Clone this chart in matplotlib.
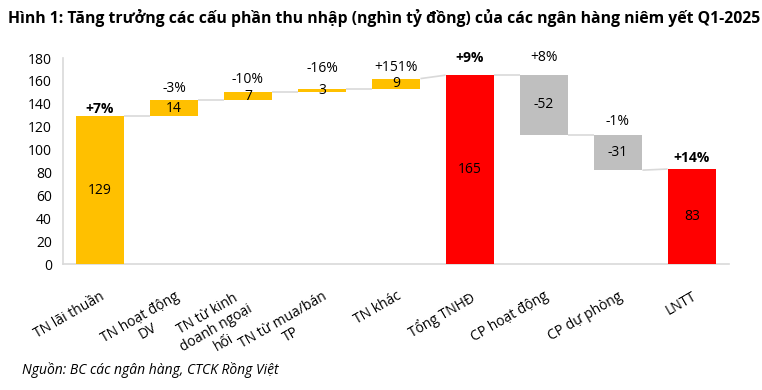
import matplotlib
matplotlib.use("Agg")
import matplotlib.pyplot as plt
import matplotlib.transforms as mtransforms

plt.rcParams['font.family'] = ['Open Sans', 'DejaVu Sans']

categories = ["TN lãi thuần", "TN hoạt động\nDV", "TN từ kinh\ndoanh ngoại\nhối",
              "TN từ mua/bán\nTP", "TN khác", "Tổng TNHĐ", "CP hoạt động",
              "CP dự phòng", "LNTT"]
values = [129, 14, 7, 3, 9, 165, -52, -31, 83]
is_total = [True, False, False, False, False, True, False, False, True]
growth = ["+7%", "-3%", "-10%", "-16%", "+151%", "+9%", "+8%", "-1%", "+14%"]
growth_bold = [True, False, False, False, False, True, False, False, True]
yticks = [0, 20, 40, 60, 80, 100, 120, 140, 160, 180]

# style
YELLOW = "#FFC000"
RED = "#FF0000"
GREY = "#BFBFBF"
colors = [YELLOW, YELLOW, YELLOW, YELLOW, YELLOW, RED, GREY, GREY, RED]
label_offset_px = [7, 12, 12.5, 20, 11.5, 17, 18, 13, 11.5]

fig = plt.figure(figsize=(7.62, 3.90), dpi=100)
ax = fig.add_axes([63/762, 1-264/390, (729-63)/762, (264-58)/390])

# compute waterfall geometry
bottoms, tops, starts, ends = [], [], [], []
running = 0
for v, t in zip(values, is_total):
    if t:
        b, tp = 0, v
        start, end = v, v
        running = v
    else:
        prev = running
        running = prev + v
        b, tp = min(prev, running), max(prev, running)
        start, end = prev, running
    bottoms.append(b); tops.append(tp); starts.append(start); ends.append(end)

x = list(range(len(categories)))
w = 0.66
ax.bar(x, [t - b for t, b in zip(tops, bottoms)], bottom=bottoms, width=w,
       color=colors, zorder=3)

# connectors
for i in range(len(x) - 1):
    ax.plot([x[i] + w/2, x[i+1] - w/2], [ends[i], starts[i+1]],
            color="#D9D9D9", lw=1.2, zorder=2, solid_capstyle='butt')

# value labels
for i, v in enumerate(values):
    ax.text(x[i], (tops[i] + bottoms[i]) / 2, f"{v}", ha='center', va='center',
            fontsize=10, color='black', zorder=4)

# growth labels
for i, g in enumerate(growth):
    ax.annotate(g, (x[i], tops[i]), xytext=(0, label_offset_px[i] * 0.72),
                textcoords='offset points', ha='center', va='center',
                fontsize=10, fontweight='bold' if growth_bold[i] else 'normal',
                color='black', zorder=4)

ax.set_xlim(-0.5, len(x) - 0.5)
ax.set_ylim(0, 180)
ax.set_yticks(yticks)
ax.set_yticklabels([str(t) for t in yticks], fontsize=10)
ax.set_xticks(x)
ax.set_xticklabels(categories, rotation=30, ha='right', va='top',
                   rotation_mode='anchor', fontsize=10, multialignment='center',
                   linespacing=1.15)
ax.tick_params(axis='both', length=0)
ax.tick_params(axis='x', pad=18)
ax.tick_params(axis='y', pad=8)
# nudge the three-line label slightly left so it doesn't collide
lbl = ax.get_xticklabels()[2]
lbl.set_transform(lbl.get_transform() +
                  mtransforms.ScaledTranslation(-9/100, 2/100, fig.dpi_scale_trans))
for s in ['top', 'right']:
    ax.spines[s].set_visible(False)
for s in ['left', 'bottom']:
    ax.spines[s].set_color('#D9D9D9')
    ax.spines[s].set_linewidth(1.2)

fig.text(8/762, 1-18/390, "Hình 1: Tăng trưởng các cấu phần thu nhập (nghìn tỷ đồng) của các ngân hàng niêm yết Q1-2025",
         ha='left', va='center', fontsize=11.3, fontweight='bold')
fig.text(22/762, 1-370/390, "Nguồn: BC các ngân hàng, CTCK Rồng Việt",
         ha='left', va='center', fontsize=10, style='italic')

fig.savefig("out.png", dpi=100)
